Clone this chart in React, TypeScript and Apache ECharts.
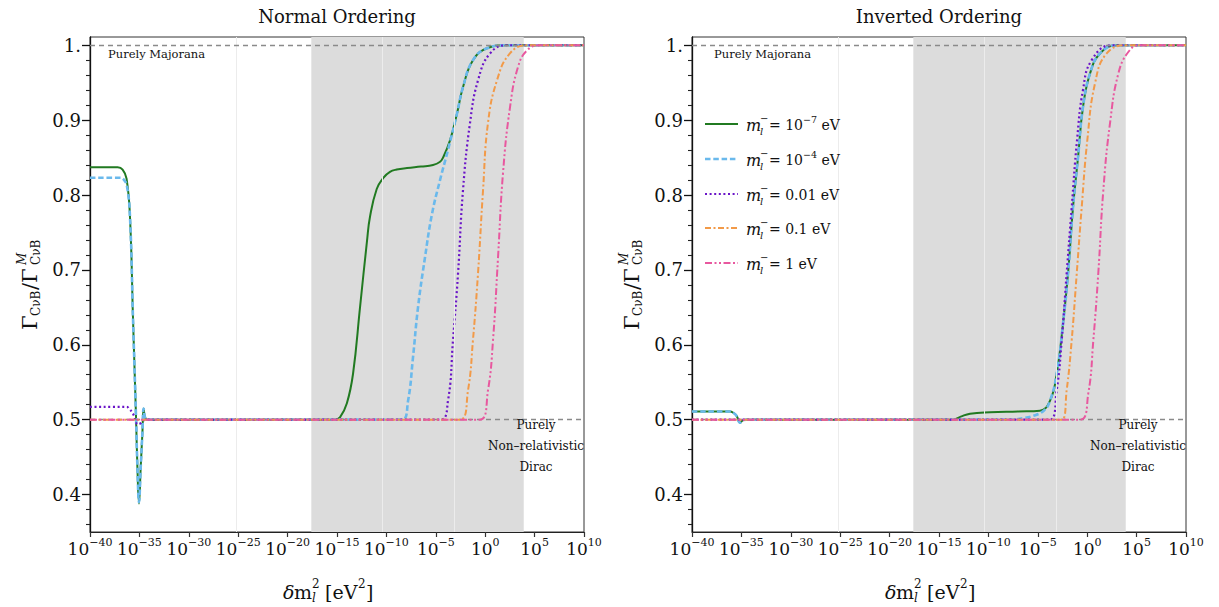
import React, { useEffect, useRef } from "react";
import * as echarts from "echarts";

const FONT = "DejaVu Serif";

// x values are log10(δm² / eV²)
const X_MIN = -40;
const X_MAX = 10;
const X_INTERVAL = 5;
const Y_MIN = 0.35;
const Y_MAX = 1.011;
const Y_MAJOR = [0.4, 0.5, 0.6, 0.7, 0.8, 0.9, 1.0];
const Y_MINOR = [0.36, 0.38, 0.42, 0.44, 0.46, 0.48, 0.52, 0.54, 0.56, 0.58, 0.62, 0.64, 0.66, 0.68, 0.72, 0.74, 0.76, 0.78, 0.82, 0.84, 0.86, 0.88, 0.92, 0.94, 0.96, 0.98];

const SHADE_RANGE = [-17.6, 3.9];
const FAINT_LINES = [-25.2, -10.45, -3.16];
const REF_LEVELS = [1.0, 0.5];

const PANEL_TITLES = ["Normal Ordering", "Inverted Ordering"];
const MASS_NAMES = ["10^-7 eV", "10^-4 eV", "0.01 eV", "0.1 eV", "1 eV"];
const MASS_LABELS = ["= 10{s|\u22127} eV", "= 10{s|\u22124} eV", "= 0.01 eV", "= 0.1 eV", "= 1 eV"];

// ---- Normal ordering ----
const NO_GREEN_X = [-40, -37.2, -36.7, -36.3, -35.95, -35.65, -35.34, -35.2, -35.04, -34.87, -34.7, -34.57, -34.43, -34.2, -15.2, -14.7, -14.0, -13.38, -12.67, -11.96, -11.66, -10.98, -10.31, -9.64, -8.96, -7.91, -6.5, -5.28, -4.6, -4.27, -3.56, -2.85, -2.25, -1.24, 0.18, 2.21, 10];
const NO_GREEN_Y = [0.837, 0.837, 0.834, 0.822, 0.770, 0.636, 0.503, 0.436, 0.388, 0.436, 0.481, 0.515, 0.503, 0.5, 0.5, 0.503, 0.522, 0.561, 0.650, 0.739, 0.771, 0.808, 0.823, 0.831, 0.834, 0.836, 0.838, 0.840, 0.844, 0.850, 0.873, 0.909, 0.944, 0.980, 0.996, 1.0, 1.0];
const NO_BLUE_X = [-40, -37.0, -36.6, -36.26, -35.95, -35.65, -35.34, -35.2, -35.04, -34.87, -34.7, -34.57, -34.43, -34.2, -8.42, -7.81, -7.31, -6.80, -6.09, -5.38, -4.57, -3.77, -2.85, -2.25, -1.24, 0.18, 2.21, 10];
const NO_BLUE_Y = [0.823, 0.823, 0.821, 0.812, 0.770, 0.636, 0.503, 0.436, 0.390, 0.436, 0.481, 0.515, 0.503, 0.5, 0.5, 0.525, 0.583, 0.650, 0.717, 0.775, 0.820, 0.860, 0.909, 0.944, 0.980, 0.996, 1.0, 1.0];
const NO_PURPLE_X = [-40, -36.3, -36.0, -35.65, -35.14, -34.77, -34.4, -4.57, -3.77, -3.26, -2.75, -2.25, -1.54, -0.73, 0.49, 2.2, 10];
const NO_PURPLE_Y = [0.517, 0.517, 0.514, 0.508, 0.494, 0.496, 0.5, 0.5, 0.525, 0.606, 0.695, 0.806, 0.896, 0.953, 0.989, 1.0, 1.0];
const NO_ORANGE_X = [-40, -2.55, -1.74, -1.24, -0.73, -0.22, 0.28, 1.19, 2.5, 4.2, 10];
const NO_ORANGE_Y = [0.5, 0.5, 0.539, 0.606, 0.695, 0.806, 0.896, 0.953, 0.989, 1.0, 1.0];
const NO_PINK_X = [-40, -0.53, 0.28, 0.79, 1.30, 1.80, 2.51, 3.32, 4.23, 5.5, 10];
const NO_PINK_Y = [0.5, 0.5, 0.539, 0.606, 0.717, 0.829, 0.917, 0.971, 0.993, 1.0, 1.0];

// ---- Inverted ordering ----
const IO_GREEN_X = [-40, -36.15, -35.8, -35.48, -35.14, -34.87, -34.5, -13.58, -12.8, -11.86, -9.84, -7.0, -4.78, -3.77, -3.09, -2.45, -1.94, -1.44, -0.93, -0.43, 0.28, 1.30, 3.0, 10];
const IO_GREEN_Y = [0.511, 0.511, 0.509, 0.505, 0.496, 0.499, 0.5, 0.5, 0.504, 0.508, 0.510, 0.511, 0.512, 0.525, 0.561, 0.628, 0.695, 0.783, 0.850, 0.917, 0.962, 0.989, 1.0, 1.0];
const IO_BLUE_X = [-40, -36.15, -35.8, -35.48, -35.14, -34.87, -34.5, -7.8, -6.5, -5.5, -4.4, -3.77, -3.09, -2.45, -1.94, -1.44, -0.93, -0.43, 0.28, 1.30, 3.0, 10];
const IO_BLUE_Y = [0.511, 0.511, 0.509, 0.505, 0.496, 0.499, 0.5, 0.5, 0.502, 0.505, 0.512, 0.525, 0.561, 0.628, 0.695, 0.783, 0.850, 0.917, 0.962, 0.989, 1.0, 1.0];
const IO_PURPLE_X = [-40, -3.77, -3.09, -2.58, -2.08, -1.57, -1.03, -0.43, 0.45, 2.5, 10];
const IO_PURPLE_Y = [0.5, 0.5, 0.539, 0.606, 0.695, 0.783, 0.873, 0.940, 0.980, 1.0, 1.0];
const IO_ORANGE_X = [-40, -2.58, -2.08, -1.57, -1.06, -0.56, 0.01, 0.79, 1.97, 4.0, 10];
const IO_ORANGE_Y = [0.5, 0.5, 0.539, 0.606, 0.695, 0.783, 0.873, 0.949, 0.989, 1.0, 1.0];
const IO_PINK_X = [-40, -0.73, 0.11, 0.62, 1.12, 1.63, 2.31, 3.15, 4.16, 5.3, 10];
const IO_PINK_Y = [0.5, 0.5, 0.535, 0.606, 0.695, 0.806, 0.896, 0.962, 0.991, 1.0, 1.0];

const COLORS = ["#217a21", "#6ab9ec", "#6a14c8", "#f29a48", "#e8589f"];
const WIDTHS = [2, 2.6, 2.2, 2, 2];
const DASHES: any[] = ["solid", [5.5, 2.8], [2, 2.6], [6, 2.5, 2, 2.5], [7, 2.5, 2, 2.5, 2, 2.5]];

const PANEL_DATA = [
  [[NO_GREEN_X, NO_GREEN_Y], [NO_BLUE_X, NO_BLUE_Y], [NO_PURPLE_X, NO_PURPLE_Y], [NO_ORANGE_X, NO_ORANGE_Y], [NO_PINK_X, NO_PINK_Y]],
  [[IO_GREEN_X, IO_GREEN_Y], [IO_BLUE_X, IO_BLUE_Y], [IO_PURPLE_X, IO_PURPLE_Y], [IO_ORANGE_X, IO_ORANGE_Y], [IO_PINK_X, IO_PINK_Y]],
];

const GRID_LEFTS = [90, 692];
const GRID_W = 494;
const GRID_TOP = 37;
const GRID_H = 495;

function xLabel(v: number) {
  const s = v < 0 ? "\u2212" + Math.abs(v) : String(v);
  return `{b|10}{s|${s}}`;
}

function buildOption() {
  const grid = GRID_LEFTS.map((l) => ({
    left: l, top: GRID_TOP, width: GRID_W, height: GRID_H,
    show: true, borderColor: "#333", borderWidth: 1, backgroundColor: "transparent",
  }));

  const xAxis = [0, 1].map((gi) => ({
    type: "value", gridIndex: gi, min: X_MIN, max: X_MAX, interval: X_INTERVAL,
    position: "bottom",
    axisLine: { onZero: false, lineStyle: { color: "#222", width: 1 } },
    axisTick: { show: true, length: 5, lineStyle: { color: "#333", width: 1.2 } },
    splitLine: { show: false },
    axisLabel: {
      margin: 5, color: "#111", formatter: xLabel,
      rich: {
        b: { fontFamily: FONT, fontSize: 17, lineHeight: 24, color: "#111" },
        s: { fontFamily: FONT, fontSize: 11, lineHeight: 13, verticalAlign: "top", color: "#111" },
      },
    },
  }));

  const yAxis: any[] = [];
  [0, 1].forEach((gi) => {
    yAxis.push({
      type: "value", gridIndex: gi, min: Y_MIN, max: Y_MAX, position: "left",
      axisLine: { show: true, onZero: false, lineStyle: { color: "#111", width: 1.3 } },
      axisTick: { show: true, length: 8, customValues: Y_MAJOR, lineStyle: { color: "#111", width: 1.3 } },
      axisLabel: {
        customValues: Y_MAJOR, margin: 9, fontFamily: FONT, fontSize: 18, color: "#111",
        formatter: (v: number) => (Math.abs(v - 1) < 1e-9 ? "1." : v.toFixed(1)),
      },
      splitLine: { show: false },
    });
    yAxis.push({
      type: "value", gridIndex: gi, min: Y_MIN, max: Y_MAX, position: "left",
      axisLine: { show: false, onZero: false },
      axisTick: { show: true, length: 4, customValues: Y_MINOR, lineStyle: { color: "#222", width: 1.1 } },
      axisLabel: { show: false },
      splitLine: { show: false },
    });
  });

  const series: any[] = [];
  [0, 1].forEach((gi) => {
    series.push({
      type: "line", name: "shade" + gi, xAxisIndex: gi, yAxisIndex: gi * 2, data: [], silent: true, z: 0,
      markArea: {
        silent: true, itemStyle: { color: "#dcdcdc" },
        data: [[{ xAxis: SHADE_RANGE[0] }, { xAxis: SHADE_RANGE[1] }]],
      },
    });
    series.push({
      type: "line", name: "refs" + gi, xAxisIndex: gi, yAxisIndex: gi * 2, data: [], silent: true, z: 1,
      markLine: {
        silent: true, symbol: "none", label: { show: false },
        data: [
          ...FAINT_LINES.map((x) => ({ xAxis: x, lineStyle: { color: "#ececec", width: 1, type: "solid" } })),
          ...REF_LEVELS.map((y) => ({ yAxis: y, lineStyle: { color: "#8a8a8a", width: 1.3, type: [5, 4] } })),
        ],
      },
    });
    PANEL_DATA[gi].forEach(([xs, ys], k) => {
      series.push({
        type: "line", name: MASS_NAMES[k] + (gi ? " IO" : " NO"), xAxisIndex: gi, yAxisIndex: gi * 2,
        data: xs.map((x, i) => [x, ys[i]]),
        showSymbol: false, symbol: "none", smooth: 0.45, silent: true,
        lineStyle: { color: COLORS[k], width: WIDTHS[k], type: DASHES[k] },
        z: 2 + k,
      });
    });
  });

  const graphic: any[] = [];
  const txt = (text: string, x: number, y: number, size: number, extra: any = {}) => ({
    type: "text", x, y, z: 100, silent: true,
    style: { text, fontFamily: FONT, fontSize: size, fill: "#111", align: "left", verticalAlign: "middle", ...extra },
  });

  [0, 1].forEach((gi) => {
    const off = GRID_LEFTS[gi] - GRID_LEFTS[0];
    graphic.push(txt(PANEL_TITLES[gi], 337 + off, 16, 18, { align: "center" }));
    graphic.push(txt("Purely Majorana", 108 + off + (gi ? 4 : 0), 54, 11.5));
    graphic.push(txt("Purely", 536 + off, 425, 12, { align: "center" }));
    graphic.push(txt("Non\u2013relativistic", 536 + off, 446, 12, { align: "center" }));
    graphic.push(txt("Dirac", 536 + off, 467, 12, { align: "center" }));

    // y axis name: Γ_CνB / Γ^M_CνB (rotated)
    graphic.push({
      type: "group", x: 30 + off, y: 330, rotation: Math.PI / 2, silent: true, z: 100,
      children: [
        txt("\u0393", 0, 0, 21),
        txt("C\u03BDB", 14, 6, 12),
        txt("/\u0393", 40, 0, 21),
        txt("M", 65, -8, 12, { fontStyle: "italic" }),
        txt("C\u03BDB", 65, 6, 12),
      ],
    });

    // x axis name: δm²_l [eV²]
    graphic.push({
      type: "group", x: 283 + off, y: 592, silent: true, z: 100,
      children: [
        txt("\u03B4", 0, 0, 19, { fontStyle: "italic" }),
        txt("m", 11, 0, 19),
        txt("2", 29, -8, 12),
        txt("l", 29, 6, 12, { fontStyle: "italic" }),
        txt("[eV", 42, 0, 19),
        txt("2", 75, -8, 12),
        txt("]", 83, 0, 19),
      ],
    });
  });

  // legend (inverted panel)
  const LEG_Y = [124, 159, 194, 228, 263];
  MASS_LABELS.forEach((lab, k) => {
    const y = LEG_Y[k];
    graphic.push({
      type: "line", silent: true, z: 100,
      shape: { x1: 705, y1: y, x2: 738, y2: y },
      style: { stroke: COLORS[k], lineWidth: WIDTHS[k], lineDash: DASHES[k] === "solid" ? null : DASHES[k] },
    });
    graphic.push(txt("m", 746, y + 1, 16, { fontStyle: "italic" }));
    graphic.push(txt("\u2212", 760, y - 6, 10));
    graphic.push(txt("l", 760, y + 7, 10, { fontStyle: "italic" }));
    graphic.push({
      type: "text", x: 769, y: y + 1, z: 100, silent: true,
      style: {
        text: lab, fontFamily: FONT, fontSize: 14, fill: "#111", align: "left", verticalAlign: "middle",
        rich: {
          s: { fontFamily: FONT, fontSize: 9.5, verticalAlign: "top", lineHeight: 10, fill: "#111" },
        },
        lineHeight: 21,
      },
    });
  });

  return {
    animation: false,
    backgroundColor: "#fff",
    textStyle: { fontFamily: FONT },
    grid, xAxis, yAxis, series, graphic,
  };
}

export default function App() {
  const ref = useRef<HTMLDivElement>(null);
  useEffect(() => {
    if (!ref.current) return;
    const chart = echarts.init(ref.current, null, { renderer: "svg" });
    chart.setOption(buildOption() as any);
    return () => chart.dispose();
  }, []);
  return <div ref={ref} style={{ position: "fixed", left: 0, top: 0, width: 1219, height: 607, background: "#fff" }} />;
}
